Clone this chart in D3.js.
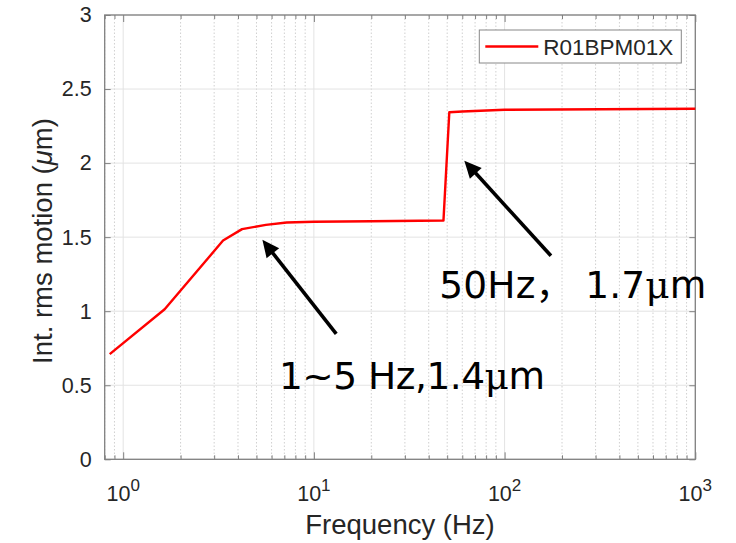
<!DOCTYPE html>
<html>
<head>
<meta charset="utf-8">
<script src="https://cdn.jsdelivr.net/npm/d3@7"></script>
<style>
  body { margin: 0; background: #fff; }
  text { font-family: "Liberation Sans", Arial, Helvetica, sans-serif; }
</style>
</head>
<body>
<svg id="chart" width="736" height="543"></svg>
<script>
// Integrated rms motion of BPM R01BPM01X versus frequency (log axis)
const freqHz = [0.85, 1.65, 3.34, 4.2, 5.6, 7.2, 10, 20, 47.8, 51.3, 60, 100, 1000];
const rmsMotionUm = [0.71, 1.013, 1.477, 1.554, 1.583, 1.599, 1.604, 1.607, 1.612, 2.343, 2.348, 2.360, 2.367];
const seriesName = "R01BPM01X";

const xDomain = [0.8, 1000];
const yDomain = [0, 3];
const xDecades = [1, 10, 100, 1000];
const xDecadeExponents = ["0", "1", "2", "3"];
const yTickValues = [0, 0.5, 1, 1.5, 2, 2.5, 3];
const yTickLabels = ["0", "0.5", "1", "1.5", "2", "2.5", "3"];

// Callouts: label text, arrow tip / tail, label anchor (data units) and label width (px)
const noteLabels = ["1~5 Hz,1.4μm", "50Hz， 1.7μm"];
const noteTips = [[5.37, 1.482], [61.5, 2.016]];
const noteTails = [[13.1, 0.847], [175, 1.374]];
const noteAnchors = [[6.56, 0.474], [45.5, 1.092]];
const noteWidths = [266, 267];

const W = 736, H = 543;
const margin = { top: 15, right: 40.7, bottom: 83.7, left: 104.7 };
const iw = W - margin.left - margin.right;
const ih = H - margin.top - margin.bottom;

const svg = d3.select("#chart");
const g = svg.append("g").attr("transform", `translate(${margin.left},${margin.top})`);

const x = d3.scaleLog().domain(xDomain).range([0, iw]);
const y = d3.scaleLinear().domain(yDomain).range([ih, 0]);

// minor decade subdivisions inside the domain
const minorX = [];
for (let e = -1; e <= 2; e++) {
  for (let m = 2; m <= 9; m++) {
    const v = m * Math.pow(10, e);
    if (v >= xDomain[0] && v <= xDomain[1] && !xDecades.includes(v)) minorX.push(v);
  }
}

const axisColor = "#808080";
const textColor = "#262626";

// grid
g.append("g").selectAll("line.minor").data(minorX).join("line")
  .attr("x1", d => x(d)).attr("x2", d => x(d))
  .attr("y1", 0).attr("y2", ih)
  .attr("stroke", "#d0d0d0").attr("stroke-width", 1)
  .attr("stroke-dasharray", "1.5,2");
g.append("g").selectAll("line.major").data(xDecades).join("line")
  .attr("x1", d => x(d)).attr("x2", d => x(d))
  .attr("y1", 0).attr("y2", ih)
  .attr("stroke", "#e3e3e3").attr("stroke-width", 1);
g.append("g").selectAll("line.ygrid").data(yTickValues).join("line")
  .attr("x1", 0).attr("x2", iw)
  .attr("y1", d => y(d)).attr("y2", d => y(d))
  .attr("stroke", "#e3e3e3").attr("stroke-width", 1);

// axes (ticks pointing inward)
function styleAxis(sel) {
  sel.select(".domain").remove();
  sel.selectAll(".tick line").attr("stroke", axisColor).attr("stroke-width", 1);
}

g.append("g").attr("transform", `translate(0,${ih})`)
  .call(d3.axisBottom(x).tickValues(xDecades).tickSize(-7).tickFormat(""))
  .call(styleAxis);
g.append("g")
  .call(d3.axisTop(x).tickValues(xDecades).tickSize(-7).tickFormat(""))
  .call(styleAxis);
g.append("g").attr("transform", `translate(0,${ih})`)
  .call(d3.axisBottom(x).tickValues(minorX).tickSize(-4).tickFormat(""))
  .call(styleAxis);
g.append("g")
  .call(d3.axisTop(x).tickValues(minorX).tickSize(-4).tickFormat(""))
  .call(styleAxis);

const yLeft = g.append("g")
  .call(d3.axisLeft(y).tickValues(yTickValues).tickSize(-6).tickPadding(13)
    .tickFormat((d, i) => yTickLabels[i]))
  .call(styleAxis);
yLeft.selectAll(".tick text")
  .attr("fill", textColor).attr("font-size", 21.5)
  .style("font-family", '"Liberation Sans", Arial, sans-serif');
g.append("g").attr("transform", `translate(${iw},0)`)
  .call(d3.axisRight(y).tickValues(yTickValues).tickSize(-6).tickFormat(""))
  .call(styleAxis);

// decade labels 10^n
const xl = g.append("g").attr("class", "xlabels");
xDecades.forEach((d, i) => {
  const t = xl.append("text")
    .attr("x", x(d)).attr("y", ih + 42)
    .attr("text-anchor", "middle")
    .attr("fill", textColor).attr("font-size", 21.5);
  t.append("tspan").text("10");
  t.append("tspan").attr("dy", -10).attr("font-size", 17).text(xDecadeExponents[i]);
});

// plot box
g.append("rect").attr("x", 0).attr("y", 0).attr("width", iw).attr("height", ih)
  .attr("fill", "none").attr("stroke", axisColor).attr("stroke-width", 1.3);

// data line
const line = d3.line().x((d, i) => x(freqHz[i])).y((d, i) => y(rmsMotionUm[i]));
g.append("path").datum(rmsMotionUm)
  .attr("d", line)
  .attr("fill", "none").attr("stroke", "#ff0000").attr("stroke-width", 2.4)
  .attr("stroke-linejoin", "round");

// axis titles
svg.append("text")
  .attr("x", margin.left + iw / 2).attr("y", 534)
  .attr("text-anchor", "middle").attr("fill", textColor).attr("font-size", 27.5)
  .text("Frequency (Hz)");

const yt = svg.append("text")
  .attr("transform", `translate(52,241) rotate(-90)`)
  .attr("text-anchor", "middle").attr("fill", textColor).attr("font-size", 27.5);
yt.append("tspan").text("Int. rms motion (");
yt.append("tspan").attr("font-style", "italic").text("μ");
yt.append("tspan").text("m)");

// legend
const lg = g.append("g").attr("transform", `translate(${iw - 216},15)`);
lg.append("rect").attr("x", 0).attr("y", 0).attr("width", 202).attr("height", 33)
  .attr("fill", "#fff").attr("stroke", "#888").attr("stroke-width", 1);
lg.append("line").attr("x1", 6).attr("x2", 59).attr("y1", 16.5).attr("y2", 16.5)
  .attr("stroke", "#ff0000").attr("stroke-width", 2.4);
lg.append("text").attr("x", 64).attr("y", 25).attr("fill", textColor)
  .attr("font-size", 22.5).text(seriesName);

// callout arrows and labels
const ann = g.append("g");
noteLabels.forEach((label, i) => {
  const tx = x(noteTips[i][0]), ty = y(noteTips[i][1]);
  const sx = x(noteTails[i][0]), sy = y(noteTails[i][1]);
  const len = Math.hypot(tx - sx, ty - sy);
  const ux = (tx - sx) / len, uy = (ty - sy) / len;
  const headLen = 17, headHalf = 8;
  const bx = tx - ux * headLen, by = ty - uy * headLen;
  ann.append("line")
    .attr("x1", sx).attr("y1", sy)
    .attr("x2", tx - ux * (headLen - 2)).attr("y2", ty - uy * (headLen - 2))
    .attr("stroke", "#000").attr("stroke-width", 3.6);
  ann.append("path")
    .attr("d", `M${tx},${ty}L${bx - uy * headHalf},${by + ux * headHalf}L${bx + uy * headHalf},${by - ux * headHalf}Z`)
    .attr("fill", "#000");

  const t = ann.append("text")
    .attr("x", x(noteAnchors[i][0])).attr("y", y(noteAnchors[i][1]))
    .attr("fill", "#000").attr("font-size", 37.5)
    .attr("textLength", noteWidths[i]).attr("lengthAdjust", "spacing")
    .style("font-family", '"DejaVu Sans", "Noto Sans CJK SC", sans-serif');
  label.split(/(μ)/).forEach(part => {
    if (!part) return;
    const s = t.append("tspan").text(part);
    if (part === "μ") s.style("font-family", '"DejaVu Serif", "Liberation Serif", serif');
  });
});
</script>
</body>
</html>
